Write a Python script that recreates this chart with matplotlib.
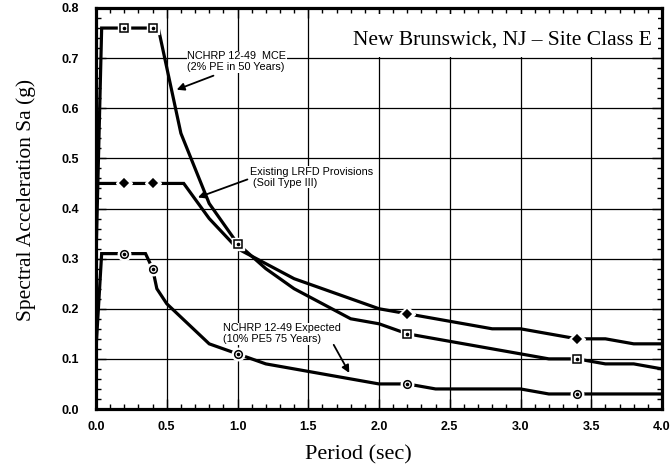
import matplotlib
matplotlib.use("Agg")
import matplotlib.pyplot as plt
from matplotlib.patches import Rectangle
from matplotlib.ticker import MultipleLocator, FormatStrFormatter

# period (sec) / spectral acceleration (g)
MCE_T = [0.0, 0.04, 0.2, 0.4, 0.44, 0.6, 0.8, 1.0, 1.2, 1.4, 1.6, 1.8, 2.0, 2.2,
         2.4, 2.6, 2.8, 3.0, 3.2, 3.4, 3.6, 3.8, 4.0]
MCE_SA = [0.30, 0.76, 0.76, 0.76, 0.76, 0.55, 0.41, 0.33, 0.28, 0.24, 0.21, 0.18, 0.17, 0.15,
          0.14, 0.13, 0.12, 0.11, 0.10, 0.10, 0.09, 0.09, 0.08]

LRFD_T = [0.0, 0.2, 0.4, 0.62, 0.8, 1.0, 1.2, 1.4, 1.6, 1.8, 2.0, 2.2, 2.4, 2.6,
          2.8, 3.0, 3.2, 3.4, 3.6, 3.8, 4.0]
LRFD_SA = [0.45, 0.45, 0.45, 0.45, 0.38, 0.32, 0.29, 0.26, 0.24, 0.22, 0.20, 0.19, 0.18, 0.17,
           0.16, 0.16, 0.15, 0.14, 0.14, 0.13, 0.13]

EXP_T = [0.0, 0.04, 0.2, 0.35, 0.4, 0.43, 0.5, 0.65, 0.8, 1.0, 1.2, 1.4, 1.6, 1.8, 2.0, 2.2,
         2.4, 2.6, 2.8, 3.0, 3.2, 3.4, 3.6, 3.8, 4.0]
EXP_SA = [0.12, 0.31, 0.31, 0.31, 0.28, 0.24, 0.21, 0.17, 0.13, 0.11, 0.09, 0.08, 0.07, 0.06, 0.05, 0.05,
          0.04, 0.04, 0.04, 0.04, 0.03, 0.03, 0.03, 0.03, 0.03]

MARK_T = [0.2, 0.4, 1.0, 2.2, 3.4]
LRFD_MARK_T = [0.2, 0.4, 2.2, 3.4]   # the 1.0 point sits under the MCE square

SANS = "Liberation Sans"
SERIF = "Liberation Serif"

fig = plt.figure(figsize=(6.71, 4.71), dpi=100)
ax = fig.add_axes([96 / 671, 1 - 409 / 471, 566 / 671, 401 / 471])
ax.set_xlim(0, 4.0)
ax.set_ylim(0, 0.8)
ax.set_axisbelow(True)

ax.xaxis.set_major_locator(MultipleLocator(0.5))
ax.xaxis.set_minor_locator(MultipleLocator(0.1))
ax.yaxis.set_major_locator(MultipleLocator(0.1))
ax.yaxis.set_minor_locator(MultipleLocator(0.02))
ax.xaxis.set_major_formatter(FormatStrFormatter("%.1f"))
ax.yaxis.set_major_formatter(FormatStrFormatter("%.1f"))
ax.grid(True, which="major", color="black", lw=0.9)
ax.tick_params(which="both", direction="in", top=True, right=True, color="black")
ax.tick_params(which="major", length=7, width=1)
ax.tick_params(which="minor", length=3.5, width=1)
ax.tick_params(axis="y", which="major", pad=12)
ax.tick_params(axis="x", which="major", pad=9)
for lab in ax.get_xticklabels() + ax.get_yticklabels():
    lab.set_fontfamily(SANS)
    lab.set_fontweight("bold")
    lab.set_fontsize(9)
for sp in ax.spines.values():
    sp.set_linewidth(2.3)

# white block behind the site title
ax.add_patch(Rectangle((1.62, 0.703), 2.35, 0.085, facecolor="white", edgecolor="none", zorder=1))
ax.text(3.93, 0.737, "New Brunswick, NJ \u2013 Site Class E", ha="right", va="center",
        family=SERIF, fontsize=15.5, zorder=2)


def curve(T, SA, marks, marker, filled, ms):
    idx = [T.index(t) for t in marks]
    ax.plot(T, SA, color="black", lw=2.3, zorder=3, solid_joinstyle="miter")
    ax.plot(T, SA, ls="none", marker=marker, markevery=idx, ms=ms + 3.5,
            mfc="white", mec="white", zorder=4)
    ax.plot(T, SA, ls="none", marker=marker, markevery=idx, ms=ms,
            mfc="black" if filled else "white", mec="black", mew=1.1, zorder=5)
    if not filled:
        ax.plot(T, SA, ls="none", marker="o", markevery=idx, ms=1.6,
                mfc="black", mec="black", zorder=6)


curve(LRFD_T, LRFD_SA, LRFD_MARK_T, "D", True, 4.2)
curve(EXP_T, EXP_SA, MARK_T, "o", False, 5.5)
curve(MCE_T, MCE_SA, MARK_T, "s", False, 5.2)

box = dict(facecolor="white", edgecolor="none", pad=0.5)
arrow = dict(arrowstyle="-|>", color="black", lw=1.3, mutation_scale=11, shrinkA=0, shrinkB=0)

ax.text(0.645, 0.693, "NCHRP 12-49  MCE\n(2% PE in 50 Years)", ha="left", va="center",
        family=SANS, fontsize=7.8, linespacing=1.1, bbox=box, zorder=7)
ax.annotate("", xy=(0.57, 0.637), xytext=(0.83, 0.665), arrowprops=arrow, zorder=7)

ax.text(1.09, 0.462, "Existing LRFD Provisions\n (Soil Type III)", ha="left", va="center",
        family=SANS, fontsize=7.8, linespacing=1.1, bbox=box, zorder=7)
ax.annotate("", xy=(0.72, 0.422), xytext=(1.07, 0.458), arrowprops=arrow, zorder=7)

ax.text(0.9, 0.15, "NCHRP 12-49 Expected\n(10% PE5 75 Years)", ha="left", va="center",
        family=SANS, fontsize=7.8, linespacing=1.1, bbox=box, zorder=7)
ax.annotate("", xy=(1.79, 0.072), xytext=(1.68, 0.128), arrowprops=arrow, zorder=7)

fig.text(358 / 671, 1 - 455 / 471, "Period (sec)", ha="center", va="center",
         family=SERIF, fontsize=16)
fig.text(26 / 671, 1 - 200 / 471, "Spectral Acceleration Sa (g)", ha="center", va="center",
         rotation=90, family=SERIF, fontsize=15.5)

fig.savefig("out.png", dpi=100, facecolor="white")
